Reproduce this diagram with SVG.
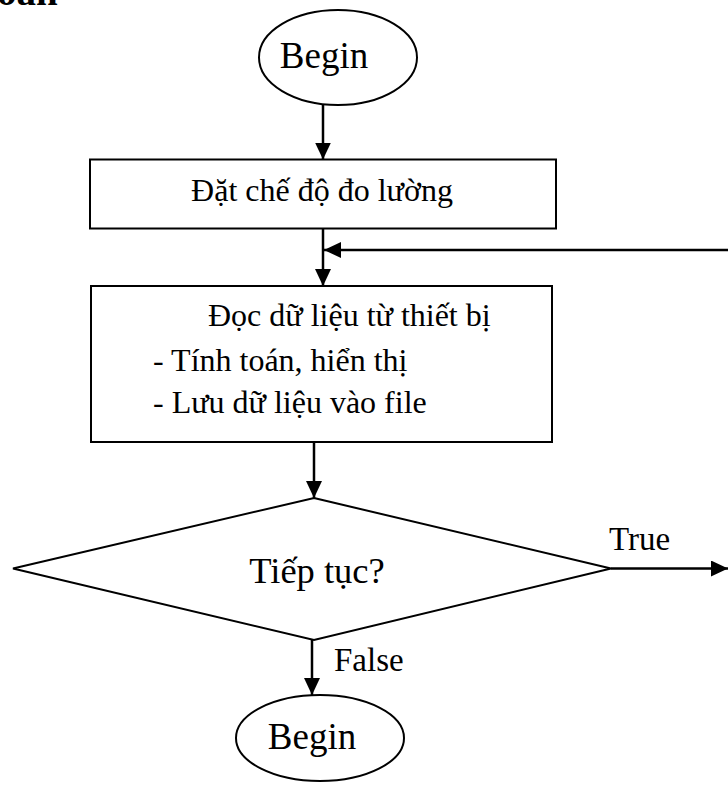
<svg xmlns="http://www.w3.org/2000/svg" width="728" height="785" viewBox="0 0 728 785">
  <style>
    .shape { fill: #ffffff; stroke: #000000; stroke-width: 2; }
    .link { fill: none; stroke: #000000; stroke-width: 2.5; }
    .t { font-family: "Liberation Serif", "DejaVu Serif", serif; fill: #000000; }
    .big { font-size: 37px; }
    .mid { font-size: 32px; }
    .dec { font-size: 36.5px; }
    .lab { font-size: 33px; }
  </style>
  <defs>
    <marker id="arrow" viewBox="0 0 17 16" refX="17" refY="8" markerWidth="17" markerHeight="16" markerUnits="userSpaceOnUse" orient="auto">
      <path d="M0,0 L17,8 L0,16 Z" fill="#000000"/>
    </marker>
  </defs>

  <rect width="728" height="785" fill="#ffffff"/>

  <!-- section heading, mostly above the visible area -->
  <text class="t" x="-16" y="4.5" font-size="39" font-weight="bold">toán</text>

  <g id="start">
    <ellipse class="shape" cx="338" cy="57.5" rx="79" ry="47.5"/>
    <text class="t big" x="324" y="68" text-anchor="middle">Begin</text>
  </g>

  <g id="set-mode">
    <rect class="shape" x="90" y="159.5" width="466" height="69"/>
    <text class="t mid" x="322" y="201" text-anchor="middle">Đặt chế độ đo lường</text>
  </g>

  <g id="read-data">
    <rect class="shape" x="91" y="286" width="461" height="156"/>
    <text class="t mid" x="208" y="326">Đọc dữ liệu từ thiết bị</text>
    <text class="t mid" x="153" y="371">- Tính toán, hiển thị</text>
    <text class="t mid" x="153" y="413">- Lưu dữ liệu vào file</text>
  </g>

  <g id="continue">
    <polygon class="shape" points="314,498 611,568.5 314,640 13,568.5"/>
    <text class="t dec" x="317" y="583" text-anchor="middle">Tiếp tục?</text>
  </g>

  <g id="end">
    <ellipse class="shape" cx="320" cy="738" rx="84" ry="43"/>
    <text class="t big" x="312" y="749" text-anchor="middle">Begin</text>
  </g>

  <g id="connectors">
    <line class="link" x1="323" y1="105" x2="323" y2="159.5" marker-end="url(#arrow)"/>
    <line class="link" x1="323" y1="229" x2="323" y2="286" marker-end="url(#arrow)"/>
    <line class="link" x1="728" y1="250" x2="324" y2="250" marker-end="url(#arrow)"/>
    <line class="link" x1="314" y1="442" x2="314" y2="498" marker-end="url(#arrow)"/>
    <line class="link" x1="611" y1="568.5" x2="728" y2="568.5" marker-end="url(#arrow)"/>
    <line class="link" x1="312" y1="640" x2="312" y2="695" marker-end="url(#arrow)"/>
    <text class="t lab" x="609" y="550">True</text>
    <text class="t lab" x="334" y="671">False</text>
  </g>
</svg>
